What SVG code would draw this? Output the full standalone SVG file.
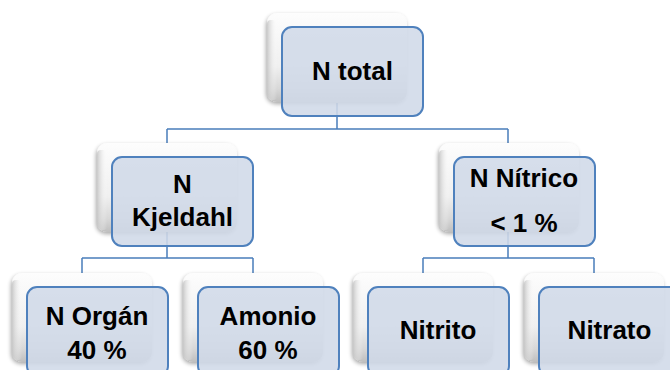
<svg xmlns="http://www.w3.org/2000/svg" width="670" height="370" viewBox="0 0 670 370">
<defs>
<linearGradient id="cardGrad" x1="0" y1="0" x2="0" y2="1">
<stop offset="0" stop-color="#fdfdfd"/>
<stop offset="0.6" stop-color="#f0f0f0"/>
<stop offset="0.85" stop-color="#d8d8d8"/>
<stop offset="1" stop-color="#bfbfbf"/>
</linearGradient>
<linearGradient id="edgeGrad" x1="0" y1="0" x2="1" y2="0">
<stop offset="0" stop-color="#c4c4c4" stop-opacity="0.9"/>
<stop offset="1" stop-color="#ffffff" stop-opacity="0"/>
</linearGradient>
<filter id="sh" x="-20%" y="-20%" width="140%" height="140%">
<feGaussianBlur in="SourceAlpha" stdDeviation="2"/>
<feOffset dx="-1" dy="2" result="b"/>
<feComponentTransfer><feFuncA type="linear" slope="0.35"/></feComponentTransfer>
<feMerge><feMergeNode/><feMergeNode in="SourceGraphic"/></feMerge>
</filter>
</defs>
<style>
.card{fill:url(#cardGrad);filter:url(#sh)}
.edge{fill:url(#edgeGrad)}
.box{fill:#d0d9e8;fill-opacity:0.88;stroke:#4f81bd;stroke-width:2}
.conn{fill:none;stroke:#4a7ebb;stroke-width:1.5}
text{font-family:"Liberation Sans",Arial,sans-serif;font-weight:bold;font-size:26px;fill:#000;text-anchor:middle}
</style>
<rect width="670" height="370" fill="#ffffff"/>
<g id="connectors">
<path class="conn" d="M337,103 V129 M167,129 H508 M167,129 V143 M508,129 V143"/>
<path class="conn" d="M167,232 V258 M82,258 H253 M82,258 V273 M253,258 V273"/>
<path class="conn" d="M508,232 V258 M423,258 H594 M423,258 V273 M594,258 V273"/>
</g>
<g id="n-total">
<rect class="card" x="267" y="13" width="140" height="89" rx="10"/>
<rect class="edge" x="267" y="20" width="10" height="80" rx="4"/>
<rect class="box" x="282" y="27" width="141" height="89" rx="10"/>
<text x="352.5" y="80">N total</text>
</g>
<g id="n-kjeldahl">
<rect class="card" x="97" y="143" width="140" height="89" rx="10"/>
<rect class="edge" x="97" y="150" width="10" height="80" rx="4"/>
<rect class="box" x="112" y="157" width="141" height="89" rx="10"/>
<text x="182.5" y="193">N</text>
<text x="182.5" y="226">Kjeldahl</text>
</g>
<g id="n-nitrico">
<rect class="card" x="439" y="143" width="140" height="89" rx="10"/>
<rect class="edge" x="439" y="150" width="10" height="80" rx="4"/>
<rect class="box" x="454" y="157" width="141" height="89" rx="10"/>
<text x="524" y="187">N Nítrico</text>
<text x="524" y="232">&lt; 1 %</text>
</g>
<g id="n-organ">
<rect class="card" x="12" y="273" width="140" height="89" rx="10"/>
<rect class="edge" x="12" y="280" width="10" height="80" rx="4"/>
<rect class="box" x="27" y="287" width="141" height="89" rx="10"/>
<text x="97" y="325">N Orgán</text>
<text x="97" y="359">40 %</text>
</g>
<g id="amonio">
<rect class="card" x="183" y="273" width="140" height="89" rx="10"/>
<rect class="edge" x="183" y="280" width="10" height="80" rx="4"/>
<rect class="box" x="198" y="287" width="141" height="89" rx="10"/>
<text x="268" y="325">Amonio</text>
<text x="268" y="359">60 %</text>
</g>
<g id="nitrito">
<rect class="card" x="353" y="273" width="140" height="89" rx="10"/>
<rect class="edge" x="353" y="280" width="10" height="80" rx="4"/>
<rect class="box" x="368" y="287" width="141" height="89" rx="10"/>
<text x="438" y="339">Nitrito</text>
</g>
<g id="nitrato">
<rect class="card" x="524" y="273" width="140" height="89" rx="10"/>
<rect class="edge" x="524" y="280" width="10" height="80" rx="4"/>
<rect class="box" x="539" y="287" width="141" height="89" rx="10"/>
<text x="609.5" y="339">Nitrato</text>
</g>
</svg>
